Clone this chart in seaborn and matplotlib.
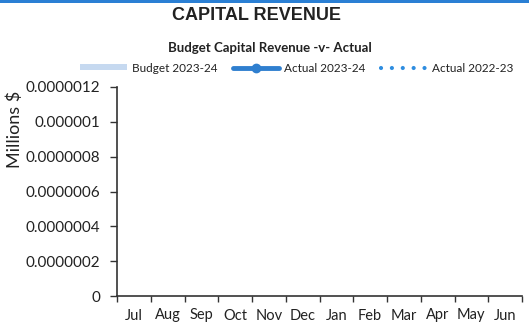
import matplotlib
matplotlib.use("Agg")
import matplotlib.pyplot as plt
from matplotlib.lines import Line2D
from matplotlib.patches import Patch, Rectangle
from matplotlib.ticker import FuncFormatter, FixedLocator
import numpy as np
import pandas as pd
import seaborn as sns

# Monthly capital revenue (millions $), financial year July-June
months = ["Jul", "Aug", "Sep", "Oct", "Nov", "Dec", "Jan", "Feb", "Mar", "Apr", "May", "Jun"]
budget_2023_24 = [0, 0, 0, 0, 0, 0, 0, 0, 0, 0, 0, 0]
actual_2023_24 = [None] * 12
actual_2022_23 = [None] * 12

y_ticks = [0, 0.0000002, 0.0000004, 0.0000006, 0.0000008, 0.000001, 0.0000012]

BUDGET_COLOR = "#c6d9f0"
ACTUAL_COLOR = "#2f7fcf"
PRIOR_COLOR = "#2e8de0"
DOTTED = (0, (0.01, 2.6))

sns.set_theme(style="white")
plt.rcParams["font.family"] = ["Lato", "DejaVu Sans"]

df = pd.DataFrame({
    "month": months,
    "budget": budget_2023_24,
    "actual": pd.to_numeric(pd.Series(actual_2023_24), errors="coerce"),
    "prior": pd.to_numeric(pd.Series(actual_2022_23), errors="coerce"),
})

fig = plt.figure(figsize=(5.29, 3.26), dpi=100)
ax = fig.add_axes([117 / 529, 1 - 296 / 326, (522 - 117) / 529, (296 - 87) / 326])

sns.barplot(data=df, x="month", y="budget", color=BUDGET_COLOR, linewidth=0,
            width=0.6, ax=ax)
pos = np.arange(len(months))
ax.plot(pos, df["actual"], color=ACTUAL_COLOR, lw=3.5, marker="o", ms=6)
ax.plot(pos, df["prior"], color=PRIOR_COLOR, lw=3, linestyle=DOTTED, dash_capstyle="round")

ax.set_xlim(-0.5, len(months) - 0.5)
ax.set_ylim(0, 0.0000012)
ax.set_yticks(y_ticks)


def fmt(v, _):
    if v == 0:
        return "0"
    return ("%.7f" % v).rstrip("0").rstrip(".")


ax.yaxis.set_major_formatter(FuncFormatter(fmt))

# category boundary ticks on the x axis, labels centred between them
ax.xaxis.set_minor_locator(FixedLocator(np.arange(len(months) + 1) - 0.5))
ax.tick_params(axis="x", which="major", length=0, pad=9, labelsize=10.5, colors="#222222")
ax.tick_params(axis="x", which="minor", length=4, width=1, color="#333333", direction="out", bottom=True)
ax.tick_params(axis="y", which="major", length=5, width=1, color="#333333", direction="out",
               left=True, pad=7, labelsize=11, labelcolor="#222222")

for s in ["top", "right"]:
    ax.spines[s].set_visible(False)
for s in ["left", "bottom"]:
    ax.spines[s].set_color("#333333")
    ax.spines[s].set_linewidth(1.2)
ax.set_xlabel("")
ax.set_ylabel("")

fig.text(15 / 529, 1 - 129 / 326, "Millions $", rotation=90, ha="center", va="center",
         fontsize=13, color="#222222")

fig.text(257 / 529, 1 - 15 / 326, "CAPITAL REVENUE", ha="center", va="center",
         fontsize=13, fontweight="bold", color="#222222", family=["Liberation Sans", "DejaVu Sans"])
fig.text(270 / 529, 1 - 48 / 326, "Budget Capital Revenue -v- Actual", ha="center", va="center",
         fontsize=9.5, fontweight="bold", color="#222222")

handles = [
    Patch(facecolor=BUDGET_COLOR, edgecolor="none"),
    Line2D([], [], color=ACTUAL_COLOR, lw=3.5, marker="o", ms=6),
    Line2D([], [], color=PRIOR_COLOR, lw=3, linestyle=DOTTED, dash_capstyle="round"),
]
labels = ["Budget 2023-24", "Actual 2023-24", "Actual 2022-23"]
fig.legend(handles, labels, loc="center", bbox_to_anchor=(297 / 529, 1 - 68 / 326), ncol=3,
           frameon=False, fontsize=8.5, handlelength=3.9, handleheight=0.45, handletextpad=0.45,
           columnspacing=1.3, labelcolor="#222222", borderaxespad=0, borderpad=0)

fig.add_artist(Rectangle((0, 1 - 2.5 / 326), 1, 2.5 / 326, transform=fig.transFigure,
                         facecolor="#2a7fd4", edgecolor="none"))

fig.savefig("out.png", dpi=100)
